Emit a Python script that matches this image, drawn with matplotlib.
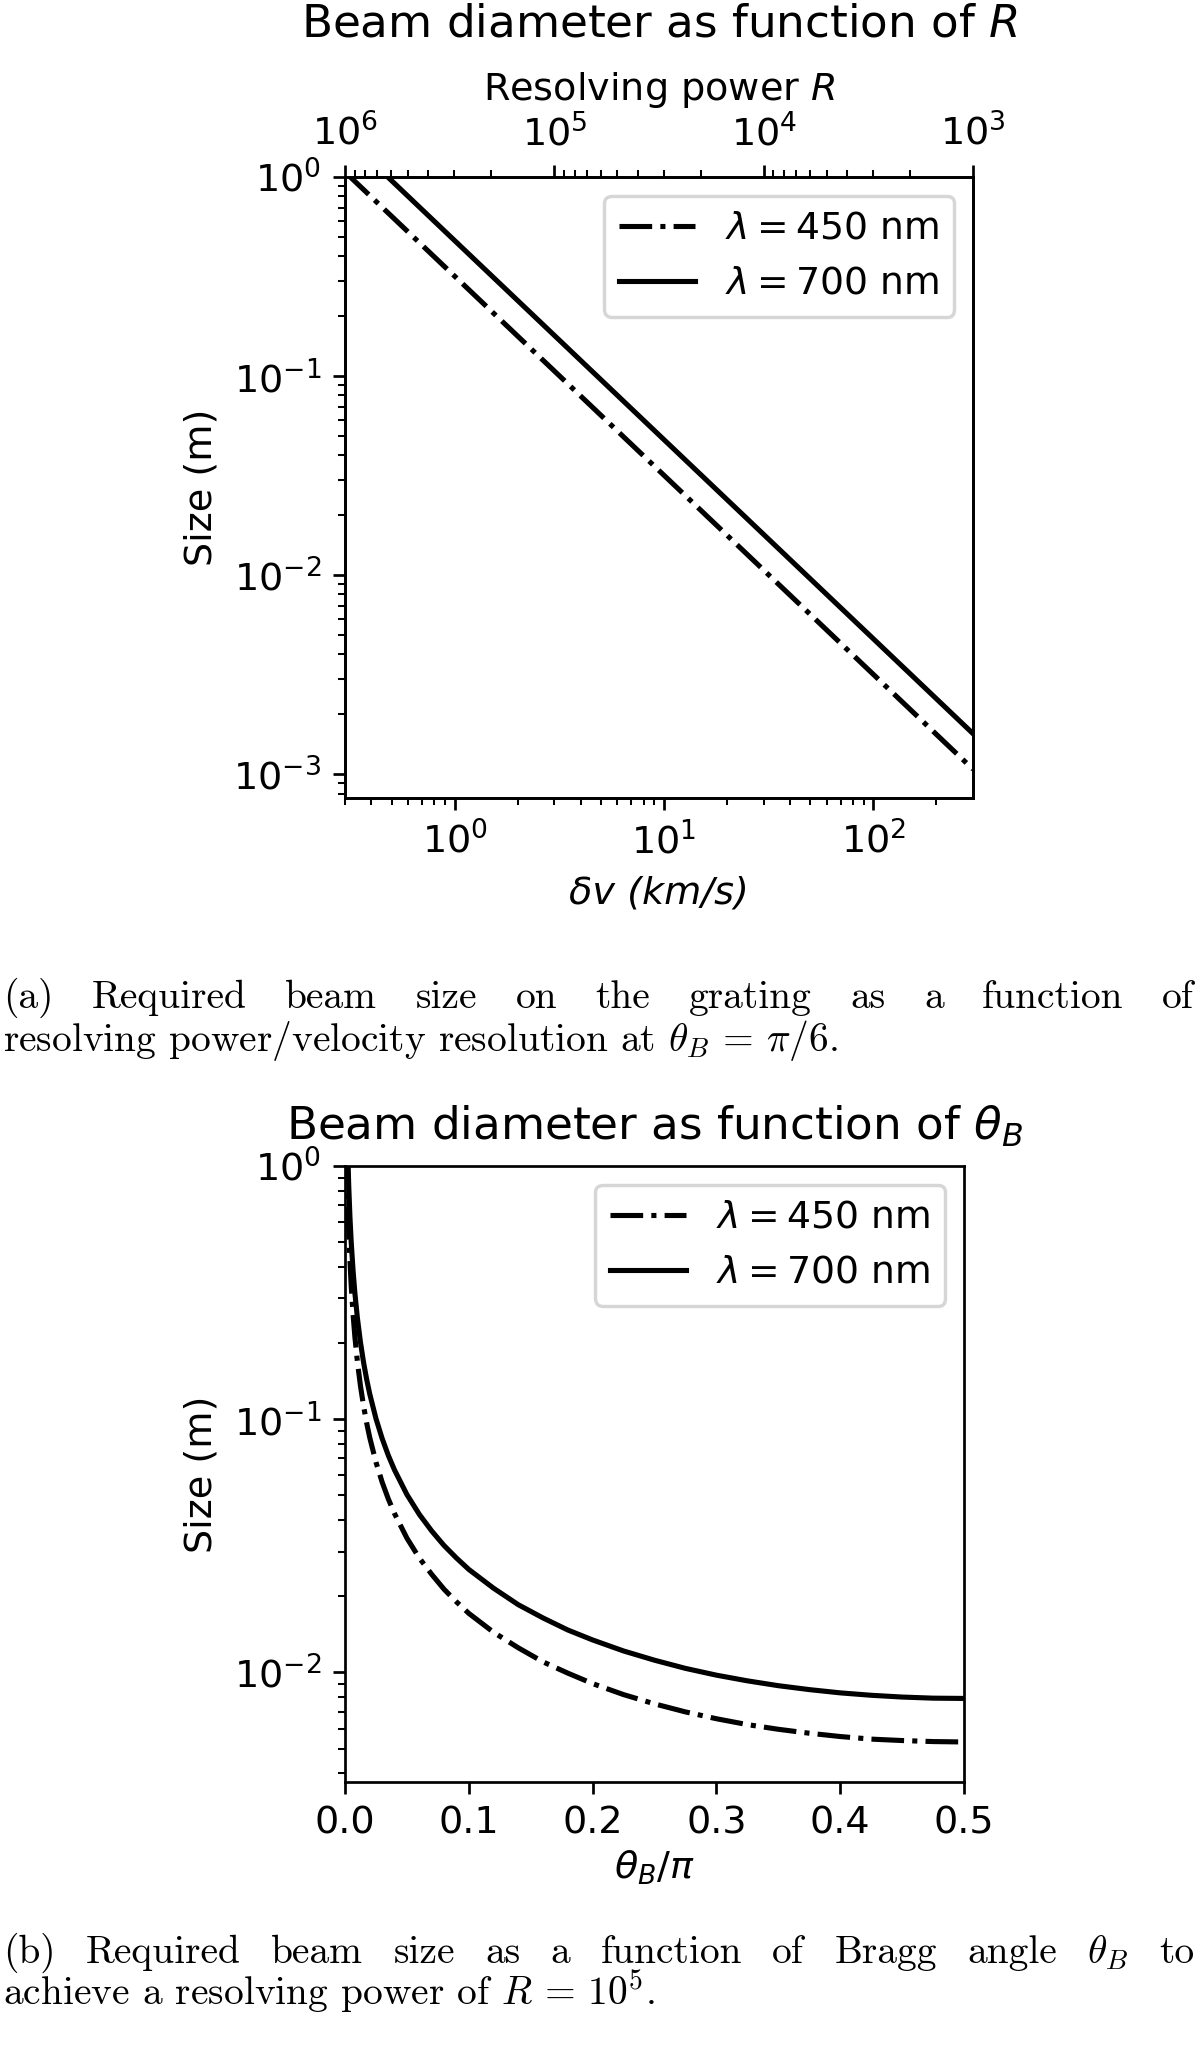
import matplotlib
matplotlib.use("Agg")
import matplotlib.pyplot as plt

SPEED_OF_LIGHT_KMS = 299792.458

# ---------------- data: panel (a) ----------------
velocity_res_kms = [0.29979, 1.0, 10.0, 100.0, 299.79]
size_a_450nm = [1.06, 0.318, 0.0318, 0.00318, 0.00106]
size_a_700nm = [1.60, 0.480, 0.0480, 0.00480, 0.00160]
resolving_power_limits = [1e6, 1e3]
size_a_limits = [7.6e-4, 1.0]

# ---------------- data: panel (b) ----------------
theta_over_pi = [0.0015, 0.002, 0.003, 0.004, 0.005, 0.0065, 0.008, 0.01,
                 0.0125, 0.015, 0.0175, 0.02, 0.025, 0.03, 0.035, 0.04,
                 0.05, 0.06, 0.07, 0.08, 0.09, 0.10, 0.12, 0.14, 0.16,
                 0.18, 0.20, 0.225, 0.25, 0.275, 0.30, 0.325, 0.35, 0.375,
                 0.40, 0.425, 0.45, 0.475, 0.50]
size_b_450nm = [1.127, 0.844, 0.563, 0.423, 0.338, 0.260, 0.211, 0.1690,
                0.1352, 0.1127, 0.0966, 0.0845, 0.0677, 0.0564, 0.0484, 0.0424,
                0.0339, 0.0283, 0.0244, 0.0213, 0.0190, 0.0171, 0.0144, 0.0125,
                0.0110, 0.00993, 0.00903, 0.00817, 0.00751, 0.00698, 0.00656,
                0.00622, 0.00596, 0.00575, 0.00558, 0.00545, 0.00538, 0.00533,
                0.00531]
size_b_700nm = [1.675, 1.256, 0.838, 0.628, 0.502, 0.387, 0.3141, 0.2513,
                0.2011, 0.1675, 0.1436, 0.1257, 0.1006, 0.0839, 0.0719, 0.0630,
                0.0504, 0.0421, 0.0362, 0.0317, 0.0283, 0.0255, 0.0215, 0.0185,
                0.0164, 0.0147, 0.01343, 0.01215, 0.01117, 0.01037, 0.00975,
                0.00926, 0.00886, 0.00855, 0.00830, 0.00812, 0.00799, 0.00791,
                0.00789]
theta_limits = [0.0, 0.5]
theta_ticks = [0.0, 0.1, 0.2, 0.3, 0.4, 0.5]
size_b_limits = [3.69e-3, 1.0]

legend_labels = [r"$\lambda = 450$ nm", r"$\lambda = 700$ nm"]
line_styles = ["-.", "-"]

title_a = r"Beam diameter as function of $R$"
title_b = r"Beam diameter as function of $\theta_B$"
caption_a_line1 = ["(a)", "Required", "beam", "size", "on", "the", "grating",
                   "as", "a", "function", "of"]
caption_a_line2 = (r"resolving power/velocity resolution at "
                   r"$\theta_B \,=\, \pi/6$.")
caption_b_line1 = ["(b)", "Required", "beam", "size", "as", "a", "function",
                   "of", "Bragg", "angle", r"$\theta_B$", "to"]
caption_b_line2 = r"achieve a resolving power of $R \,=\, 10^5$."

# ---------------- figure ----------------
W, H = 1200, 2053
DPI = 245
plt.rcParams["font.size"] = 11.2
plt.rcParams["legend.fontsize"] = 11.1
fig = plt.figure(figsize=(W / DPI, H / DPI), dpi=DPI)
TITLE_SIZE = 13.3


def axes_rect(left, top, right, bottom):
    return [left / W, 1 - bottom / H, (right - left) / W, (bottom - top) / H]


# ----- panel (a)
ax = fig.add_axes(axes_rect(345, 177, 973, 798))
ax.plot(velocity_res_kms, size_a_450nm, ls=line_styles[0], color="black",
        label=legend_labels[0])
ax.plot(velocity_res_kms, size_a_700nm, ls=line_styles[1], color="black",
        label=legend_labels[1])
ax.set_xscale("log")
ax.set_yscale("log")
ax.set_xlim(SPEED_OF_LIGHT_KMS / resolving_power_limits[0],
            SPEED_OF_LIGHT_KMS / resolving_power_limits[1])
ax.set_ylim(*size_a_limits)
ax.set_xlabel("δv (km/s)", style="italic")
ax.set_ylabel("Size (m)")
ax.legend(loc="upper right")
ax_top = ax.twiny()
ax_top.set_xscale("log")
ax_top.set_xlim(*resolving_power_limits)
ax_top.set_xlabel(r"Resolving power $R$")
fig.text((345 + 973) / 2 / W, 1 - 24 / H, title_a, ha="center", va="center",
         fontsize=TITLE_SIZE)

# ----- panel (b)
bx = fig.add_axes(axes_rect(345, 1166, 964, 1782))
bx.plot(theta_over_pi, size_b_450nm, ls=line_styles[0], color="black",
        label=legend_labels[0])
bx.plot(theta_over_pi, size_b_700nm, ls=line_styles[1], color="black",
        label=legend_labels[1])
bx.set_yscale("log")
bx.set_xlim(*theta_limits)
bx.set_xticks(theta_ticks)
bx.set_ylim(*size_b_limits)
bx.set_xlabel(r"$\theta_B/\pi$", labelpad=2)
bx.set_ylabel("Size (m)")
bx.legend(loc="upper right")
fig.text((345 + 964) / 2 / W, 1 - 1126 / H, title_b, ha="center",
         va="center", fontsize=TITLE_SIZE)

# ----- captions (LaTeX-like serif, first line justified)
CAP_KW = dict(family="cmr10", math_fontfamily="cm", fontsize=11.6,
              va="baseline", ha="left")
renderer = fig.canvas.get_renderer()


def justified(words, baseline_px, x0_px, x1_px):
    texts = [fig.text(0, 1 - baseline_px / H, w, **CAP_KW) for w in words]
    widths = [t.get_window_extent(renderer).width for t in texts]
    gap = ((x1_px - x0_px) - sum(widths)) / (len(words) - 1)
    x = x0_px
    for t, wd in zip(texts, widths):
        t.set_x(x / W)
        x += wd + gap


justified(caption_a_line1, 1008, 3, 1194)
fig.text(3 / W, 1 - 1051 / H, caption_a_line2, **CAP_KW)
justified(caption_b_line1, 1963, 3, 1194)
fig.text(3 / W, 1 - 2006 / H, caption_b_line2, **CAP_KW)

fig.savefig("out.png", dpi=DPI)
